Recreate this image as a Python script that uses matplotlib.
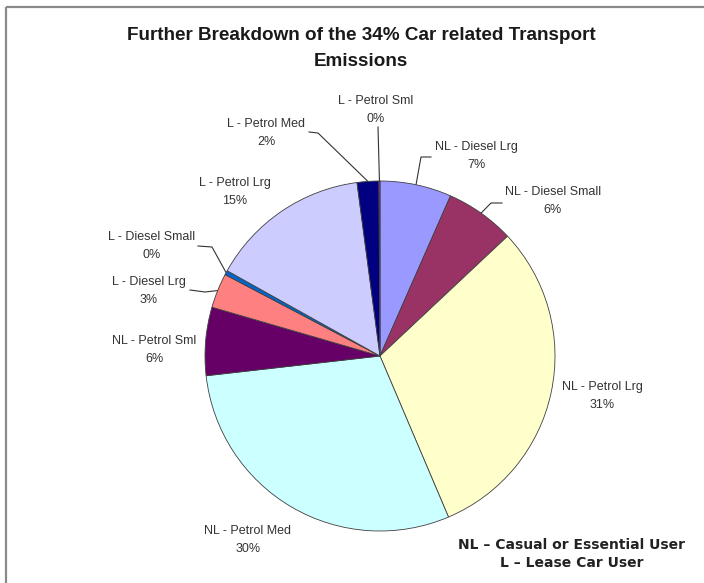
import numpy as np
import matplotlib.pyplot as plt

# slices, clockwise from 12 o'clock (Excel order)
labels = ["NL - Diesel Lrg", "NL - Diesel Small", "NL - Petrol Lrg", "NL - Petrol Med",
          "NL - Petrol Sml", "L - Diesel Lrg", "L - Diesel Small", "L - Petrol Lrg",
          "L - Petrol Med", "L - Petrol Sml"]
shares = [6.6, 6.4, 30.6, 29.6, 6.3, 3.2, 0.4, 14.8, 2.0, 0.1]
colors = ["#9999FF", "#993366", "#FFFFCC", "#CCFFFF", "#660066",
          "#FF8080", "#0066CC", "#CCCCFF", "#000080", "#FF00FF"]

title = "Further Breakdown of the 34% Car related Transport\nEmissions"
note = "NL \u2013 Casual or Essential User\nL \u2013 Lease Car User"

W, H = 704, 583
fig = plt.figure(figsize=(W / 100, H / 100), dpi=100)
plt.rcParams['font.family'] = ['Liberation Sans', 'DejaVu Sans']

# overlay in pixel coords (y down) for frame, texts and leader lines
over = fig.add_axes([0, 0, 1, 1])
over.set_xlim(0, W)
over.set_ylim(H, 0)
over.axis('off')

# pie axes: centre (380,356), radius 175 px, limits +-1.25
cx, cy, r = 380, 356, 175
half = r * 1.25
ax = fig.add_axes([(cx - half) / W, (H - cy - half) / H, 2 * half / W, 2 * half / H])
wedges, _ = ax.pie(shares, colors=colors, startangle=90, counterclock=False, radius=1,
                   wedgeprops=dict(edgecolor='#404040', linewidth=0.6))
ax.set_xlim(-1.25, 1.25)
ax.set_ylim(-1.25, 1.25)
ax.axis('off')

# frame (only top and left visible in the crop)
over.plot([6, W], [7, 7], color='#8a8a8a', lw=1.6, solid_capstyle='butt')
over.plot([6, 6], [7, H], color='#8a8a8a', lw=1.6, solid_capstyle='butt')

over.text(361, 48.5, title, ha='center', va='center', fontsize=13.6, fontweight='bold',
          linespacing=1.74, color='#1a1a1a')
over.text(572, 554, note, ha='center', va='center', fontsize=10, fontweight='bold',
          linespacing=1.39, color='#222222', family=['DejaVu Sans'])

# label positions (pixel centres) and optional leader start/knee
label_pos = {
    "L - Petrol Sml": (376, 110), "L - Petrol Med": (266, 133),
    "NL - Diesel Lrg": (476, 156), "NL - Diesel Small": (553, 201),
    "L - Petrol Lrg": (235, 192), "L - Diesel Small": (152, 246),
    "L - Diesel Lrg": (149, 291), "NL - Petrol Sml": (154, 350),
    "NL - Petrol Lrg": (602, 396), "NL - Petrol Med": (248, 540),
}
leaders = {
    "L - Petrol Sml": [(378, 127)],
    "L - Petrol Med": [(309, 132), (318, 133)],
    "NL - Diesel Lrg": [(431, 157), (421, 157)],
    "NL - Diesel Small": [(502, 203), (491, 203)],
    "L - Diesel Small": [(198, 246), (212, 247)],
    "L - Diesel Lrg": [(190, 290), (205, 292)],
}

inv = over.transData.inverted()
for w, lab, val in zip(wedges, labels, shares):
    x, y = label_pos[lab]
    over.text(x, y, f"{lab}\n{val:.0f}%", ha='center', va='center', fontsize=9,
              linespacing=1.62, color='#333333')
    if lab in leaders:
        mid = np.deg2rad((w.theta1 + w.theta2) / 2)
        edge = inv.transform(ax.transData.transform((np.cos(mid), np.sin(mid))))
        pts = leaders[lab] + [tuple(edge)]
        over.plot([p[0] for p in pts], [p[1] for p in pts], color='#333333', lw=0.8)

fig.savefig("out.png", dpi=100, facecolor='white')
